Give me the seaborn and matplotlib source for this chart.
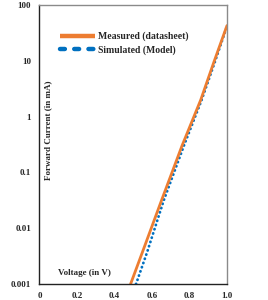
import matplotlib
matplotlib.use("Agg")
import matplotlib.pyplot as plt
import seaborn as sns
import pandas as pd

# Data
meas_v = [0.486, 0.55, 0.65, 0.76, 0.86, 0.93, 1.0]
meas_i = [0.001, 0.0038, 0.031, 0.30, 2.0, 9.5, 43.0]
sim_v = [0.515, 0.575, 0.662, 0.77, 0.865, 0.935, 1.0]
sim_i = [0.001, 0.0038, 0.031, 0.30, 2.0, 9.5, 42.0]
x_ticks = [0, 0.2, 0.4, 0.6, 0.8, 1.0]
x_ticklabels = ["0", "0.2", "0.4", "0.6", "0.8", "1.0"]
y_ticks = [0.001, 0.01, 0.1, 1, 10, 100]
y_ticklabels = ["0.001", "0.01", "0.1", "1", "10", "100"]
series_names = ["Measured (datasheet)", "Simulated (Model)"]

sns.set_style("white")
plt.rcParams['font.family'] = ['Liberation Serif', 'DejaVu Serif']
plt.rcParams['font.weight'] = 'bold'

df = pd.concat([
    pd.DataFrame({"V": meas_v, "I": meas_i, "Series": series_names[0]}),
    pd.DataFrame({"V": sim_v, "I": sim_i, "Series": series_names[1]}),
])

fig = plt.figure(figsize=(2.68, 3.0), dpi=100)
ax = fig.add_axes([0.147, 0.053, 0.70, 0.930])

orange = "#ED7D31"
blue = "#0070C0"

sns.lineplot(data=df[df.Series == series_names[1]], x="V", y="I", ax=ax,
             color=blue, lw=2.0, linestyle=(0, (0.1, 1.5)),
             dash_capstyle='round', label=series_names[1], legend=False)
sns.lineplot(data=df[df.Series == series_names[0]], x="V", y="I", ax=ax,
             color=orange, lw=2.0, label=series_names[0], legend=False)

ax.set_yscale("log")
ax.set_xlim(0, 1.0)
ax.set_ylim(0.001, 100)
ax.set_xticks(x_ticks)
ax.set_xticklabels(x_ticklabels, fontsize=6.5, fontweight='bold')
ax.set_yticks(y_ticks)
ax.set_yticklabels(y_ticklabels, fontsize=6.5, fontweight='bold')
ax.minorticks_off()
ax.tick_params(axis='both', length=0, pad=6)
ax.set_xlabel("")
ax.set_ylabel("")

for s in ['top', 'right']:
    ax.spines[s].set_color('#8a8a8a')
    ax.spines[s].set_linewidth(1.0)
for s in ['left', 'bottom']:
    ax.spines[s].set_color('#222222')
    ax.spines[s].set_linewidth(1.0)

ax.text(0.025, 0.55, "Forward Current (in mA)", rotation=90, transform=ax.transAxes,
        ha='left', va='center', fontsize=6.5, fontweight='bold')
ax.text(0.24, 0.025, "Voltage (in V)", transform=ax.transAxes,
        ha='center', va='bottom', fontsize=6.5, fontweight='bold')

h, l = ax.get_legend_handles_labels()
order = [l.index(series_names[0]), l.index(series_names[1])]
leg = ax.legend([h[i] for i in order], [l[i] for i in order],
                loc='upper left', bbox_to_anchor=(0.11, 0.905), frameon=False,
                handlelength=3.6, handletextpad=0.3,
                borderaxespad=0, borderpad=0, labelspacing=0.4,
                prop={'weight': 'bold', 'size': 7})
lines = leg.get_lines()
lines[0].set_linewidth(3.2)
lines[0].set_solid_capstyle('butt')
lines[1].set_linewidth(3.2)
lines[1].set_linestyle((0, (1.1, 2.1)))
lines[1].set_dash_capstyle('round')

fig.savefig("out.png", dpi=100)
